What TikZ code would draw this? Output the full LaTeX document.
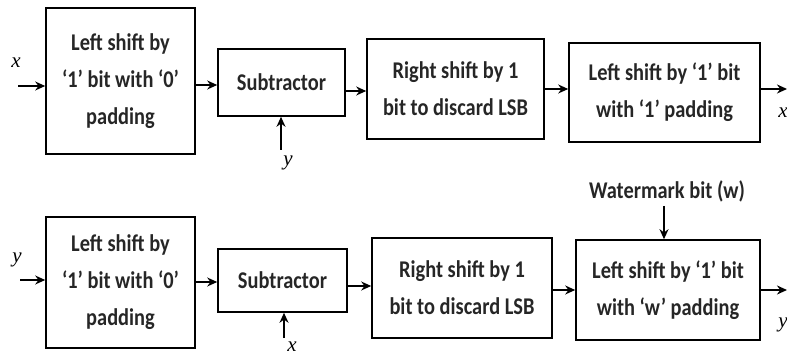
\documentclass[tikz,border=0pt]{standalone}
\usepackage{fontspec}
\setmainfont{Carlito}
\newfontfamily\blkfont[FakeStretch=0.85]{Carlito}
\newfontfamily\labfont{Liberation Serif}
\usetikzlibrary{arrows.meta}
\begin{document}
\begin{tikzpicture}[x=1pt,y=-1pt,
  blk/.style={draw,line width=1.6pt,align=center,inner sep=0pt,
    font=\blkfont\bfseries\fontsize{24}{37}\selectfont,text=black!85},
  arr/.style={line width=1.6pt,-{Stealth[length=10pt,width=9pt]}},
  lab/.style={font=\labfont\itshape\fontsize{21}{21}\selectfont,inner sep=0pt}]
\useasboundingbox (0,0) rectangle (787,355);
% top row
\node[blk,minimum width=149pt,minimum height=146pt] (B1) at (120.5,81) {Left shift by\\‘1’ bit with ‘0’\\padding};
\node[blk,minimum width=127pt,minimum height=67pt] (S1) at (281.5,82.5) {Subtractor};
\node[blk,minimum width=177pt,minimum height=100pt] (R1) at (455.5,89) {Right shift by 1\\bit to discard LSB};
\node[blk,minimum width=191pt,minimum height=99pt] (L1) at (664.5,92.5) {Left shift by ‘1’ bit\\with ‘1’ padding};
\coordinate (in1) at (18,86);
\coordinate (out1) at (787,89);
\coordinate (sy1) at (281,150);
\node[lab] (lx1) at (16,63) {x};
\node[lab] (ly1) at (288,163) {y};
\node[lab] (ox1) at (783,113) {x};
\draw[arr] (in1) -- (in1 -| B1.west);
\draw[arr] (B1.east |- 0,85) -- (S1.west |- 0,85);
\draw[arr] (S1.east |- 0,91) -- (R1.west |- 0,91);
\draw[arr] (R1.east |- 0,89) -- (L1.west |- 0,89);
\draw[arr] (L1.east |- out1) -- (out1);
\draw[arr] (sy1) -- (sy1 |- S1.south);
% bottom row
\node[blk,minimum width=149pt,minimum height=131pt] (B2) at (120.5,282.5) {Left shift by\\‘1’ bit with ‘0’\\padding};
\node[blk,minimum width=129pt,minimum height=63pt] (S2) at (282.5,280.5) {Subtractor};
\node[blk,minimum width=180pt,minimum height=100pt] (R2) at (462,288) {Right shift by 1\\bit to discard LSB};
\node[blk,minimum width=184pt,minimum height=100pt] (L2) at (668,290) {Left shift by ‘1’ bit\\with ‘w’ padding};
\node[font=\blkfont\bfseries\fontsize{24}{24}\selectfont,text=black!85,inner sep=0pt] (wm) at (667,191) {Watermark bit (w)};
\coordinate (in2) at (20,280);
\coordinate (out2) at (787,290);
\coordinate (sx2) at (284,338);
\node[lab] (ly2) at (17,260) {y};
\node[lab] (lx2) at (292,347) {x};
\node[lab] (oy2) at (783,325) {y};
\draw[arr] (in2) -- (in2 -| B2.west);
\draw[arr] (B2.east |- 0,282) -- (S2.west |- 0,282);
\draw[arr] (S2.east |- 0,286) -- (R2.west |- 0,286);
\draw[arr] (R2.east |- 0,290) -- (L2.west |- 0,290);
\draw[arr] (L2.east |- out2) -- (out2);
\draw[arr] (sx2) -- (sx2 |- S2.south);
\draw[arr] (wm.south -| 664,0) ++(0,4) -- (664,0 |- L2.north);
\end{tikzpicture}
\end{document}
